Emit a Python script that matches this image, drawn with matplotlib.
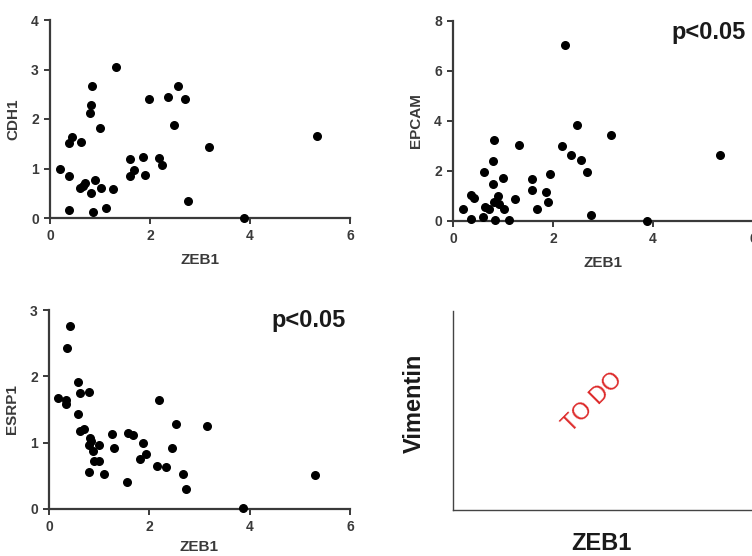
import matplotlib
matplotlib.use("Agg")
import matplotlib.pyplot as plt

plt.rcParams['font.family'] = ['Liberation Sans', 'DejaVu Sans']

# CDH1 vs ZEB1
cdh1_zeb1 = [0.2, 0.37, 0.37, 0.37, 0.43, 0.62, 0.6, 0.65, 0.7, 0.83, 0.82, 0.8, 0.81, 0.85,
             0.9, 1.0, 1.02, 1.12, 1.25, 1.31, 1.59, 1.6, 1.67, 1.85, 1.89, 1.97, 2.18, 2.23,
             2.35, 2.48, 2.55, 2.7, 2.75, 3.17, 3.88, 5.33]
cdh1 = [1.0, 0.84, 0.17, 1.52, 1.64, 1.54, 0.6, 0.65, 0.7, 2.66, 2.28, 2.13, 0.5, 0.13,
        0.77, 1.81, 0.6, 0.21, 0.58, 3.05, 0.85, 1.19, 0.97, 1.24, 0.86, 2.4, 1.21, 1.07,
        2.45, 1.88, 2.66, 2.41, 0.35, 1.44, 0.0, 1.66]

# EPCAM vs ZEB1
epcam_zeb1 = [0.2, 0.35, 0.42, 0.35, 0.59, 0.62, 0.64, 0.72, 0.8, 0.82, 0.8, 0.82, 0.84,
              0.9, 0.91, 1.0, 1.02, 1.11, 1.24, 1.31, 1.58, 1.58, 1.68, 1.85, 1.89, 1.94,
              2.17, 2.23, 2.35, 2.47, 2.55, 2.68, 2.75, 3.16, 3.88, 5.34]
epcam = [0.49, 1.03, 0.93, 0.09, 0.16, 1.96, 0.56, 0.49, 2.4, 3.23, 1.49, 0.76, 0.03,
         0.99, 0.67, 1.73, 0.49, 0.05, 0.89, 3.05, 1.69, 1.23, 0.49, 1.16, 0.76, 1.87,
         3.0, 7.05, 2.63, 3.85, 2.43, 1.96, 0.25, 3.45, 0.0, 2.65]

# ESRP1 vs ZEB1
esrp1_zeb1 = [0.18, 0.35, 0.41, 0.33, 0.33, 0.58, 0.57, 0.61, 0.61, 0.69, 0.8, 0.81, 0.8,
              0.83, 0.87, 0.89, 0.99, 0.8, 0.99, 1.09, 1.25, 1.29, 1.55, 1.58, 1.67, 1.81,
              1.87, 1.93, 2.15, 2.2, 2.33, 2.46, 2.53, 2.67, 2.73, 3.15, 3.86, 5.31]
esrp1 = [1.68, 2.42, 2.76, 1.65, 1.58, 1.92, 1.43, 1.75, 1.18, 1.21, 1.77, 1.07, 0.97,
         1.02, 0.87, 0.73, 0.72, 0.56, 0.97, 0.53, 1.13, 0.92, 0.4, 1.14, 1.12, 0.75,
         0.99, 0.83, 0.65, 1.64, 0.63, 0.92, 1.28, 0.53, 0.3, 1.25, 0.02, 0.52]

x_ticks = [0, 2, 4, 6]
axis_col = '#3a3a3a'

fig = plt.figure(figsize=(7.52, 5.56), dpi=100)


def scatter_panel(rect, x, y, ylabel, yticks, ptext=None, xpad=7):
    ax = fig.add_axes(rect)
    ax.scatter(x, y, s=30, color='black', zorder=3, clip_on=False)
    ax.set_xlim(0, 6)
    ax.set_ylim(0, yticks[-1])
    ax.set_xticks(x_ticks)
    ax.set_yticks(yticks)
    for side in ['top', 'right']:
        ax.spines[side].set_visible(False)
    for side in ['left', 'bottom']:
        ax.spines[side].set_linewidth(1.6)
        ax.spines[side].set_color(axis_col)
    ax.tick_params(length=4, width=1.4, color=axis_col, labelcolor=axis_col,
                   labelsize=10, pad=4)
    for lab in ax.get_xticklabels() + ax.get_yticklabels():
        lab.set_fontweight('bold')
    ax.set_xlabel('ZEB1', fontsize=11, fontweight='bold', color=axis_col, labelpad=xpad)
    ax.set_ylabel(ylabel, fontsize=11, fontweight='bold', color=axis_col, labelpad=8)
    if ptext:
        ax.text(ptext[0], ptext[1], 'p<0.05', transform=fig.transFigure,
                ha='center', va='center', fontsize=17, fontweight='bold', color='#1a1a1a')
    return ax


scatter_panel([50 / 752, 1 - 218 / 556, 300 / 752, 198 / 556],
              cdh1_zeb1, cdh1, 'CDH1', [0, 1, 2, 3, 4])
scatter_panel([453 / 752, 1 - 221 / 556, 300 / 752, 200 / 556],
              epcam_zeb1, epcam, 'EPCAM', [0, 2, 4, 6, 8], ptext=(709 / 752, 1 - 32 / 556))
scatter_panel([49 / 752, 1 - 509 / 556, 301 / 752, 199 / 556],
              esrp1_zeb1, esrp1, 'ESRP1', [0, 1, 2, 3], ptext=(309 / 752, 1 - 320 / 556),
              xpad=4)

# empty Vimentin panel
ax4 = fig.add_axes([453 / 752, 1 - 510 / 556, 310 / 752, 199 / 556])
ax4.set_xticks([])
ax4.set_yticks([])
for side in ['top', 'right']:
    ax4.spines[side].set_visible(False)
for side in ['left', 'bottom']:
    ax4.spines[side].set_linewidth(1.0)
    ax4.spines[side].set_color('#444444')
fig.text(414 / 752, 1 - 403 / 556, 'Vimentin', rotation=90, ha='center', va='center',
         fontsize=17, fontweight='bold', color='#1a1a1a')
fig.text(601 / 752, 1 - 543 / 556, 'ZEB1', ha='center', va='center',
         fontsize=17, fontweight='bold', color='#1a1a1a')
fig.text(593 / 752, 1 - 402 / 556, 'TO DO', rotation=45, ha='center', va='center',
         fontsize=17, color='#dd2a2a')

fig.savefig('out.png', dpi=100)
